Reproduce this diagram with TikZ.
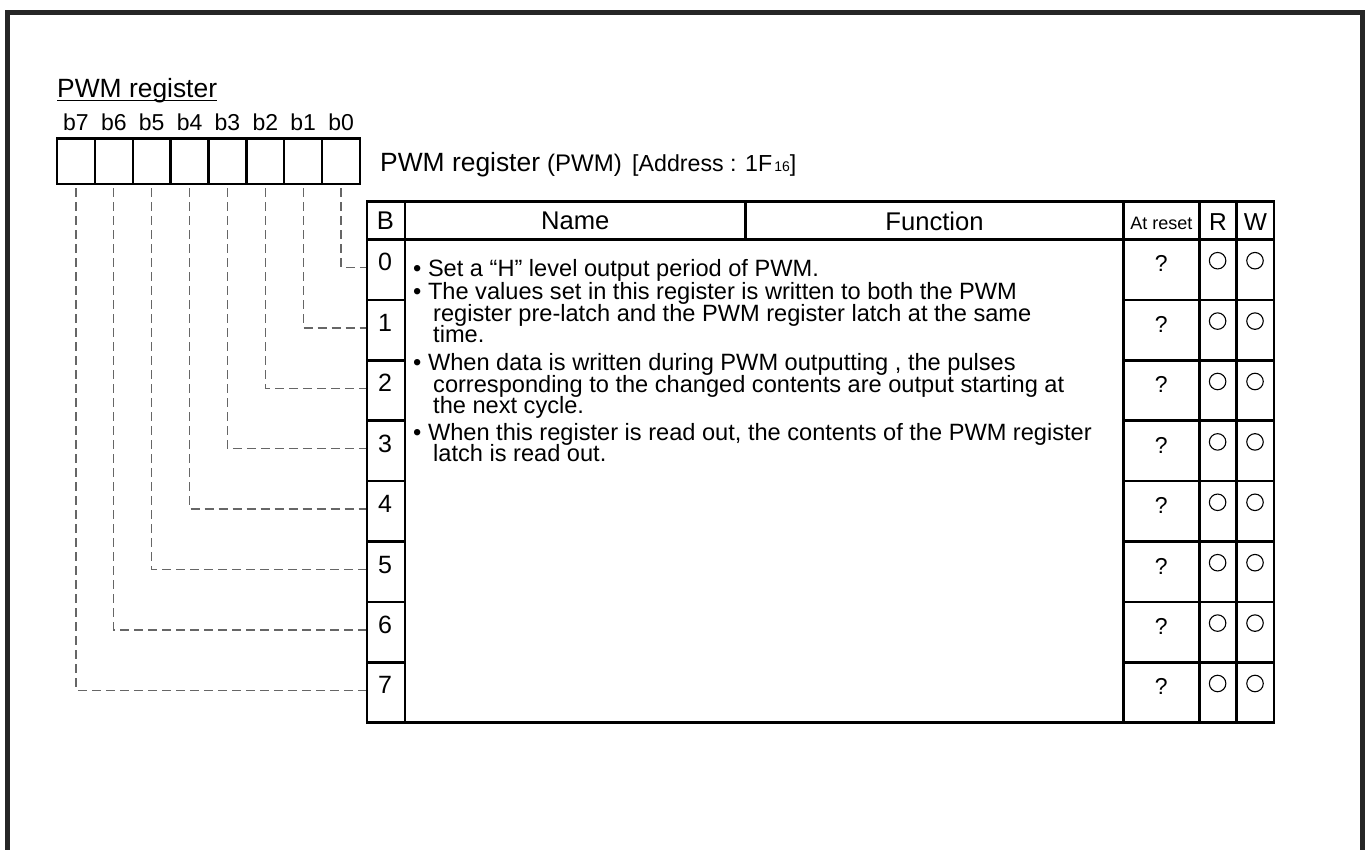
\documentclass[tikz,border=0pt]{standalone}
\usepackage{fontspec}
\setmainfont{Liberation Sans}
\newcommand{\fs}[1]{\fontsize{#1}{#1}\selectfont}
\begin{document}
\begin{tikzpicture}[x=1pt,y=-1pt,
  frame/.style={line width=5pt, draw=black!85, line join=miter},
  tbl/.style={line width=2.6pt, line cap=rect},
  bitbox/.style={draw, line width=2.4pt, minimum width=37.9pt, minimum height=45.7pt, inner sep=0pt},
  bcell/.style={draw, line width=2.6pt, minimum width=38pt, minimum height=60.4pt, inner sep=0pt},
  conn/.style={draw=black!60, line width=1.3pt, dash pattern=on 9pt off 5pt},
  hdr/.style={font=\fs{25.6}, anchor=base, inner sep=0pt},
  body/.style={font=\fs{23.6}, anchor=base west, inner sep=0pt},
  biglabel/.style={font=\fs{26.4}, anchor=base west, inner sep=0pt},
  bitlabel/.style={font=\fs{23}, anchor=base, inner sep=0pt},
  digit/.style={font=\fs{25}, anchor=base, inner sep=0pt},
  qmark/.style={font=\fs{23}, anchor=base, inner sep=0pt},
  rwcirc/.style={circle, draw, line width=1.1pt, minimum size=16.5pt, inner sep=0pt}
]
\useasboundingbox (0,0) rectangle (1368,850);
% outer frame
\draw[frame] (7.5,870) -- (7.5,12.5) -- (1362.5,12.5) -- (1362.5,870);

% title
\node[biglabel] (title) at (57,97.3) {PWM register};
\draw[line width=1.5pt] ([yshift=-3pt]title.base west) -- ([yshift=-3pt]title.base east);

% bit boxes and labels
\foreach \k in {0,...,7}{
  \pgfmathsetmacro{\cx}{57+37.875*(7-\k)+18.94}
  \node[bitlabel] (lab\k) at (\cx,130.7) {b\k};
  \node[bitbox] (bit\k) at (\cx,161.2) {};
}

% register header text
\node[biglabel] (regname) at (380,171.7) {PWM register};
\node[font=\fs{24}, anchor=base west, inner sep=0pt] (regabbr) at (547,171.7) {(PWM)};
\node[font=\fs{23.2}, anchor=base west, inner sep=0pt] (regaddr) at (632,171.7) {[Address : 1F\hspace{2pt}{\fs{14}16}]};

% table frame and lines
\draw[tbl] (367,201.7) rectangle (1274,722.7);
\draw[tbl] (367,239.5) -- (1274,239.5);
\draw[tbl] (405,201.7) -- (405,722.7);
\draw[tbl] (745.7,201.7) -- (745.7,239.5);
\draw[tbl] (1123.3,201.7) -- (1123.3,722.7);
\draw[tbl] (1199.3,201.7) -- (1199.3,722.7);
\draw[tbl] (1236.7,201.7) -- (1236.7,722.7);
\foreach \i in {1,...,7}{
  \pgfmathsetmacro{\yy}{239.5+60.4*\i}
  \draw[tbl] (1123.3,\yy) -- (1274,\yy);
}

% header texts
\node[hdr] (hB) at (385.5,230) {B};
\node[hdr] (hName) at (575.3,230) {Name};
\node[hdr] (hFunc) at (934.5,230.5) {Function};
\node[font=\fs{18}, anchor=base, inner sep=0pt] (hReset) at (1161.3,229.3) {At reset};
\node[hdr, font=\fs{24.5}] (hR) at (1218,230.5) {R};
\node[hdr, font=\fs{24.5}] (hW) at (1255.4,230.5) {W};

% B column cells, reset marks, connectors
\foreach \k in {0,...,7}{
  \pgfmathsetmacro{\top}{239.5+60.4*\k}
  \node[bcell] (row\k) at (386,\top+30.2) {};
  \node[digit] (dig\k) at (385,\top+31.5) {\k};
  \node[qmark] (q\k) at (1161.3,\top+32.5) {?};
  \node[rwcirc] (rc\k) at (1217.6,\top+21.2) {};
  \node[rwcirc] (wc\k) at (1255,\top+21.2) {};
  \draw[conn] ([yshift=-3pt]bit\k.south) |- ([yshift=2.2pt]row\k.west);
}

% function text
\node[body] (l1) at (413,277) {\textbullet\ Set a “H” level output period of PWM.};
\node[body] (l2) at (413,300) {\textbullet\ The values set in this register is written to both the PWM};
\node[body] (l3) at (433,321) {register pre-latch and the PWM register latch at the same};
\node[body] (l4) at (433,342) {time.};
\node[body] (l5) at (413,370) {\textbullet\ When data is written during PWM outputting , the pulses};
\node[body] (l6) at (433,392) {corresponding to the changed contents are output starting at};
\node[body] (l7) at (433,413) {the next cycle.};
\node[body] (l8) at (413,440) {\textbullet\ When this register is read out, the contents of the PWM register};
\node[body] (l9) at (433,461) {latch is read out.};
\end{tikzpicture}
\end{document}
